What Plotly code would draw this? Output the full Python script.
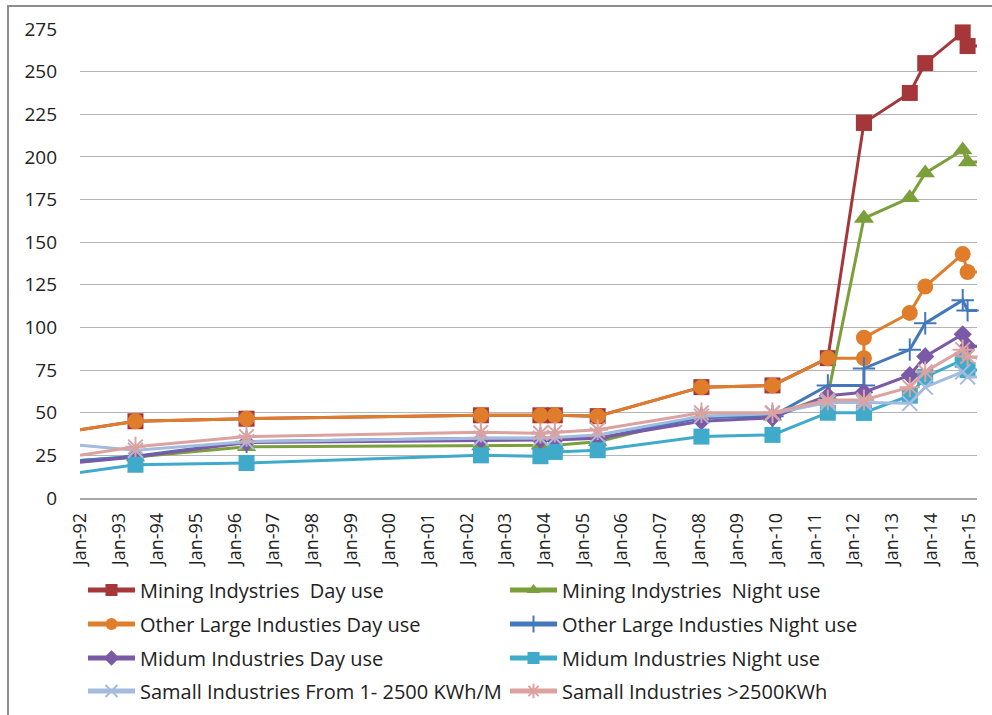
import plotly.graph_objects as go

dates = ["1992-01-01", "1993-06-08", "1996-04-22", "2002-05-15", "2003-11-28",
         "2004-04-12", "2005-05-22", "2008-01-27", "2009-11-28", "2011-05-05",
         "2012-04-10", "2012-04-10", "2013-06-17", "2013-11-10", "2014-10-30",
         "2014-12-15", "2015-03-20"]

mining_day = [40, 45, 46.5, 48.5, 48.5, 48.5, 48, 65, 66, 82, 220, 220, 237.5, 255, 273, 265, 265]
mining_night = [22, 24, 30, 30.5, 31, 31, 33, 48, 48, 60, 164, 164, 176, 190.5, 204, 197, 197]
other_day = [40, 45, 46.5, 48.5, 48.5, 48.5, 48, 65, 66, 82, 82, 94, 108.5, 124, 143, 132.5, 132.5]
other_night = [22, 24.5, 33, 35, 35, 35, 35, 47, 48, 66, 66, 76, 87, 102.5, 116, 110, 110]
midum_day = [21, 24, 32.5, 34, 34, 34, 35, 45, 47, 60, 62, 62, 72, 83, 96, 89, 89]
midum_night = [15, 19.5, 20.5, 25, 24.5, 27, 28, 36, 37, 50, 50, 50, 60, 71, 81, 75, 75]
small_low = [31, 28, 33, 35, 35, 35.5, 37, 48, 49.5, 56, 56, 56, 55.5, 65, 74, 71, 71]
small_high = [25, 30, 36, 38.5, 38, 38.5, 40, 50, 50, 57.5, 57.5, 57.5, 65, 74, 87, 83, 82]

names = ["Mining Indystries\u00a0 Day use", "Mining Indystries\u00a0 Night use",
         "Other Large Industies Day use", "Other Large Industies Night use",
         "Midum Industries Day use", "Midum Industries Night use",
         "Samall Industries From 1- 2500 KWh/M", "Samall Industries >2500KWh"]

series = [mining_day, mining_night, other_day, other_night,
          midum_day, midum_night, small_low, small_high]
colors = ["#A5373A", "#7B9F3A", "#E07D2B", "#4478BC",
          "#7A5AA6", "#40AACA", "#A3BBDE", "#DCA29F"]
symbols = ["square", "triangle-up", "circle", "cross-thin-open",
           "diamond", "square", "x-thin-open", "asterisk-open"]
msizes = [16, 17, 16, 16, 14, 16, 15, 17]

FONT = "Open Sans"
TXT = "#222222"
W, H = 992, 715
ML, MR, MT, MB = 80, 15, 29, 217
PW, PH = W - ML - MR, H - MT - MB
ITEMW = 47

fig = go.Figure()
row_px = [590, 624, 658, 691]
col_text_px = [140, 562]
for i, (vals, name, col, sym, ms) in enumerate(zip(series, names, colors, symbols, msizes)):
    sizes = [0] + [ms] * (len(vals) - 1)
    lg = "legend" if i == 0 else f"legend{i+1}"
    open_sym = sym.endswith("open")
    fig.add_trace(go.Scatter(
        x=dates, y=vals, name=name, mode="lines+markers",
        line=dict(color=col, width=3),
        marker=dict(symbol=sym, size=sizes, color=col, opacity=1,
                    line=dict(color=col, width=2 if open_sym else 0)),
        cliponaxis=False, legend=lg,
    ))

legends = {}
for i in range(8):
    r, c = i // 2, i % 2
    key = "legend" if i == 0 else f"legend{i+1}"
    legends[key] = dict(
        x=(col_text_px[c] - (ITEMW + 10) - ML) / PW, xanchor="left",
        y=(H - MB - row_px[r]) / PH, yanchor="middle",
        font=dict(family=FONT, size=20, color=TXT),
        bgcolor="rgba(0,0,0,0)", borderwidth=0, itemsizing="constant",
        itemwidth=ITEMW,
    )

fig.update_layout(
    width=W, height=H,
    margin=dict(l=ML, r=MR, t=MT, b=MB, autoexpand=False),
    paper_bgcolor="white", plot_bgcolor="white",
    font=dict(family=FONT, size=19, color=TXT),
    showlegend=True,
    xaxis=dict(
        type="date", range=["1992-01-01", "2015-03-14"],
        tick0="1992-01-01", dtick="M12", tickformat="%b-%y",
        tickangle=-90, showgrid=False, zeroline=False,
        showline=True, linecolor="#A6A6A6", linewidth=1.5,
        ticks="", ticklabelstandoff=6, automargin=False,
        tickfont=dict(family=FONT, size=18, color=TXT),
    ),
    yaxis=dict(
        range=[0, 275], dtick=25, tick0=0,
        showgrid=True, gridcolor="#B4B4B4", gridwidth=1,
        zeroline=False, showline=False, ticks="", automargin=False,
        ticklabelstandoff=22,
        tickfont=dict(family=FONT, size=19, color=TXT),
    ),
    shapes=[dict(type="rect", xref="paper", yref="paper",
                 x0=(8 - ML) / PW, x1=(W + 20 - ML) / PW,
                 y0=-(MB + 30) / PH, y1=(H - MB - 6) / PH,
                 line=dict(color="#8C8C8C", width=2), fillcolor="rgba(0,0,0,0)",
                 layer="below")],
    **legends,
)

fig.write_html("out.html")
